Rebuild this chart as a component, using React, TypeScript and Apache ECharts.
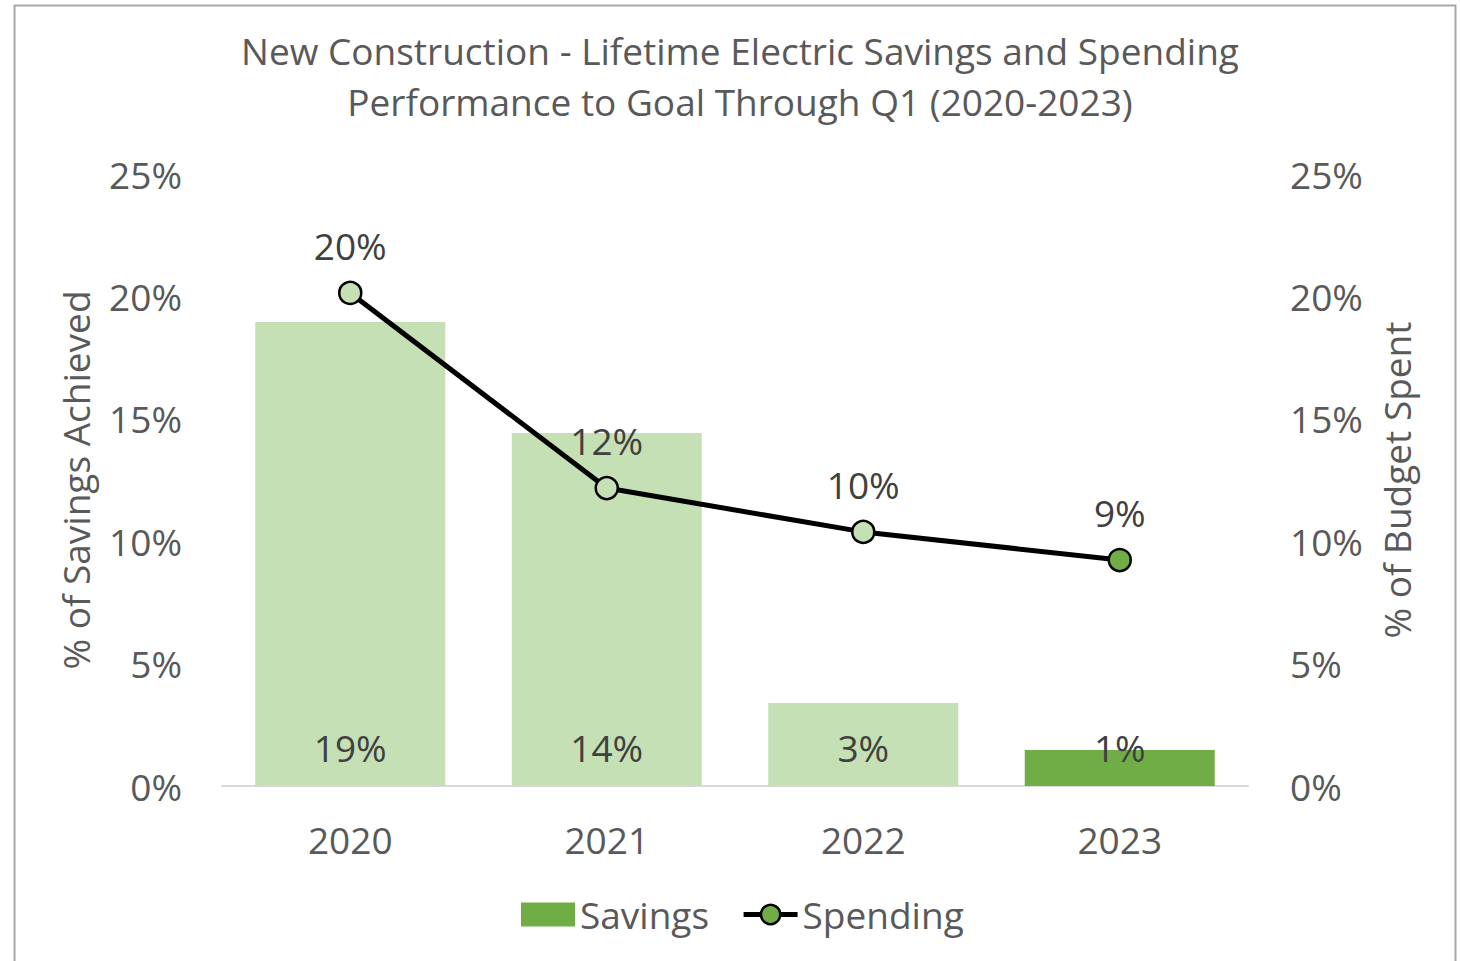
import React, { useEffect, useRef } from "react";
import * as echarts from "echarts";

const categories = ["2020", "2021", "2022", "2023"];
const savings = [18.95, 14.42, 3.39, 1.47];
const spending = [20.14, 12.17, 10.38, 9.23];
const savingsLabels = ["19%", "14%", "3%", "1%"];
const spendingLabels = ["20%", "12%", "10%", "9%"];
const highlightIndex = 3;

const FONT = "'Open Sans', 'Noto Sans', sans-serif";
const FS = 37;
const LIGHT = "#C5E0B4";
const DARK = "#70AD47";
const GRAY = "#595959";
const LABEL = "#404040";

export default function App() {
  const ref = useRef<HTMLDivElement>(null);
  useEffect(() => {
    document.body.style.margin = "0";
    const chart = echarts.init(ref.current!, null, { renderer: "svg" });
    chart.setOption({
      animation: false,
      backgroundColor: "#fff",
      textStyle: { fontFamily: FONT },
      title: {
        text: "New Construction - Lifetime Electric Savings and Spending\nPerformance to Goal Through Q1 (2020-2023)",
        left: 735,
        textAlign: "center",
        top: 20,
        textStyle: { fontFamily: FONT, fontSize: FS, fontWeight: "normal", color: GRAY, lineHeight: 51 },
      },
      graphic: [
        {
          type: "rect",
          shape: { x: 14.5, y: 5.5, width: 1441, height: 1000 },
          style: { fill: "none", stroke: "#A6A6A6", lineWidth: 2 },
          silent: true,
          z: -1,
        },
      ],
      legend: {
        top: 891,
        left: 516,
        itemWidth: 54,
        itemHeight: 24,
        itemGap: 32,
        textStyle: { fontFamily: FONT, fontSize: FS, color: GRAY },
        data: [
          { name: "Savings", icon: "rect" },
          {
            name: "Spending",
            lineStyle: { color: "#000", width: 5 },
            itemStyle: { color: DARK, borderColor: "#000", borderWidth: 2.5 },
          },
        ],
      },
      grid: { left: 222, right: 212, top: 174, bottom: 175 },
      xAxis: {
        type: "category",
        data: categories,
        axisLine: { lineStyle: { color: "#D9D9D9", width: 2 } },
        axisTick: { show: false },
        axisLabel: { fontSize: FS, color: GRAY, margin: 35, fontFamily: FONT },
      },
      yAxis: [
        {
          type: "value",
          min: 0,
          max: 25,
          interval: 5,
          name: "% of Savings Achieved",
          nameLocation: "middle",
          nameGap: 128,
          nameTextStyle: { fontSize: FS, color: GRAY, fontFamily: FONT },
          axisLabel: { formatter: "{value}%", fontSize: FS, color: GRAY, margin: 40, fontFamily: FONT },
          splitLine: { show: false },
          axisLine: { show: false },
          axisTick: { show: false },
        },
        {
          type: "value",
          min: 0,
          max: 25,
          interval: 5,
          name: "% of Budget Spent",
          nameLocation: "middle",
          nameGap: 130,
          nameTextStyle: { fontSize: FS, color: GRAY, fontFamily: FONT },
          axisLabel: { formatter: "{value}%", fontSize: FS, color: GRAY, margin: 42, fontFamily: FONT },
          splitLine: { show: false },
          axisLine: { show: false },
          axisTick: { show: false },
        },
      ],
      series: [
        {
          name: "Savings",
          type: "bar",
          yAxisIndex: 0,
          barWidth: 190,
          itemStyle: { color: DARK },
          data: savings.map((v, i) => ({
            value: v,
            itemStyle: { color: i === highlightIndex ? DARK : LIGHT },
          })),
          label: {
            show: true,
            position: "insideBottom",
            distance: 20,
            fontSize: FS,
            color: LABEL,
            fontFamily: FONT,
            formatter: (p: any) => savingsLabels[p.dataIndex],
          },
        },
        {
          name: "Spending",
          type: "line",
          yAxisIndex: 1,
          symbol: "circle",
          symbolSize: 22,
          lineStyle: { color: "#000", width: 5 },
          itemStyle: { color: DARK, borderColor: "#000", borderWidth: 2.5 },
          data: spending.map((v, i) => ({
            value: v,
            itemStyle: { color: i === highlightIndex ? DARK : LIGHT, borderColor: "#000", borderWidth: 2.5 },
          })),
          label: {
            show: true,
            position: "top",
            distance: 17,
            fontSize: FS,
            color: LABEL,
            fontFamily: FONT,
            formatter: (p: any) => spendingLabels[p.dataIndex],
          },
          z: 3,
        },
      ],
    });
    return () => chart.dispose();
  }, []);
  return <div ref={ref} style={{ width: 1460, height: 961 }} />;
}
